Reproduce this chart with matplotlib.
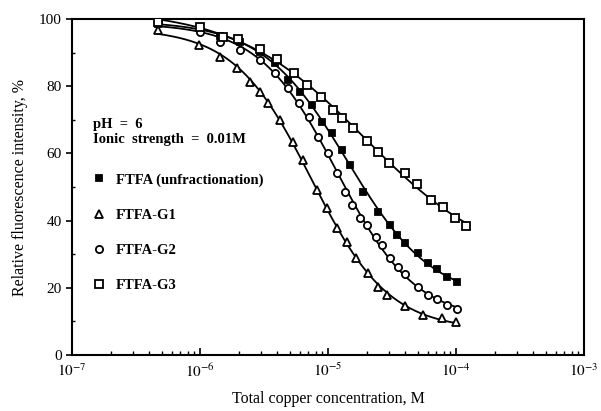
import numpy as np
import matplotlib
matplotlib.use("Agg")
from matplotlib import pyplot as plt
from matplotlib.lines import Line2D
from matplotlib.ticker import LogLocator, NullFormatter, MultipleLocator

plt.rcParams['font.family'] = ['Liberation Serif', 'DejaVu Serif']
plt.rcParams['mathtext.fontset'] = 'stix'

# readings (copper conc. in M, fluorescence in %)
ftfa_x = [4.7e-7, 1.0e-6, 1.43e-6, 2.05e-6, 2.94e-6, 3.86e-6, 4.87e-6, 6.04e-6, 7.5e-6, 8.98e-6,
          1.07e-5, 1.29e-5, 1.48e-5, 1.87e-5, 2.46e-5, 3.04e-5, 3.45e-5, 3.98e-5, 5.0e-5,
          6.0e-5, 7.1e-5, 8.5e-5, 1.02e-4]
ftfa_y = [98.5, 97.0, 95.0, 93.2, 90.2, 86.9, 81.8, 78.3, 74.4, 69.3,
          66.1, 61.0, 56.5, 48.5, 42.6, 38.7, 35.7, 33.3, 30.4,
          27.4, 25.6, 23.2, 21.7]

g1_x = [4.7e-7, 9.8e-7, 1.43e-6, 1.95e-6, 2.46e-6, 2.94e-6, 3.4e-6, 4.2e-6, 5.3e-6, 6.4e-6,
        8.2e-6, 9.8e-6, 1.17e-5, 1.4e-5, 1.65e-5, 2.05e-5, 2.45e-5, 2.9e-5, 4.0e-5,
        5.5e-5, 7.7e-5, 1.0e-4]
g1_y = [96.7, 92.3, 88.7, 85.4, 81.3, 78.3, 75.0, 69.9, 63.4, 58.0,
        49.1, 43.8, 37.8, 33.6, 28.9, 24.4, 20.2, 17.9, 14.6,
        11.9, 11.0, 9.8]

g2_x = [4.7e-7, 1.0e-6, 1.43e-6, 2.05e-6, 2.94e-6, 3.86e-6, 4.87e-6, 5.9e-6, 7.1e-6, 8.4e-6,
        1.0e-5, 1.17e-5, 1.36e-5, 1.54e-5, 1.78e-5, 2.0e-5, 2.35e-5, 2.63e-5, 3.04e-5,
        3.5e-5, 4.0e-5, 5.0e-5, 6.0e-5, 7.1e-5, 8.5e-5, 1.02e-4]
g2_y = [99.1, 96.1, 93.2, 90.8, 87.8, 83.9, 79.5, 75.0, 70.8, 64.9,
        60.1, 54.2, 48.5, 44.6, 40.8, 38.7, 35.1, 32.7, 28.9,
        26.2, 24.1, 20.2, 17.9, 16.7, 14.9, 13.7]

g3_x = [4.7e-7, 1.0e-6, 1.51e-6, 1.98e-6, 2.94e-6, 3.99e-6, 5.4e-6, 6.8e-6, 8.8e-6, 1.09e-5,
        1.29e-5, 1.57e-5, 2.02e-5, 2.46e-5, 3.0e-5, 4.0e-5, 4.96e-5, 6.4e-5, 7.9e-5,
        9.8e-5, 1.2e-4]
g3_y = [99.1, 97.6, 94.6, 94.0, 91.1, 88.1, 83.9, 80.4, 76.8, 73.0,
        70.5, 67.6, 63.7, 60.4, 57.1, 54.2, 50.9, 46.1, 44.0,
        40.8, 38.4]

series = [
	("FTFA (unfractionation)", ftfa_x, ftfa_y, "s", "black", 3.8),
	("FTFA-G1", g1_x, g1_y, "^", "white", 5.2),
	("FTFA-G2", g2_x, g2_y, "o", "white", 5.2),
	("FTFA-G3", g3_x, g3_y, "s", "white", 5.8),
]


def fit_sigmoid(lx, ys):
	# y = a*s + b*(1-s), s = 1/(1+10**(n*(lx-c))); grid over c, n, least squares for a, b
	ys = np.asarray(ys)
	best = None
	for c in np.linspace(-6.5, -3.5, 301):
		for n in np.linspace(0.3, 3.0, 136):
			s = 1.0 / (1.0 + 10 ** (n * (lx - c)))
			A = np.column_stack([s, 1 - s])
			coef, res, _, _ = np.linalg.lstsq(A, ys, rcond=None)
			err = np.sum((A @ coef - ys) ** 2)
			if best is None or err < best[0]:
				best = (err, c, n, coef)
	return best[1:]


fig = plt.figure(figsize=(6.01, 4.11), dpi=100)
ax = fig.add_axes([0.12, 0.136, 0.852, 0.818])

legend_items = []
for label, xs, ys, mk, face, ms in series:
	lx = np.log10(xs)
	c, n, (a, b) = fit_sigmoid(lx, ys)
	grid = np.linspace(lx.min(), lx.max(), 200)
	s = 1.0 / (1.0 + 10 ** (n * (grid - c)))
	ax.plot(10 ** grid, a * s + b * (1 - s), color="black", lw=1.3, zorder=2)
	ax.plot(xs, ys, ls="none", marker=mk, ms=ms, mfc=face, mec="black", mew=1.3, zorder=3)
	legend_items.append(Line2D([0], [0], ls="none", marker=mk, ms=ms, mfc=face, mec="black",
	                           mew=1.3, label=label))

ax.set_xscale("log")
ax.set_xlim(1e-7, 1e-3)
ax.set_ylim(0, 100)
ax.set_xticks([1e-7, 1e-6, 1e-5, 1e-4, 1e-3])
ax.set_xticklabels([r"$10^{-7}$", r"$10^{-6}$", r"$10^{-5}$", r"$10^{-4}$", r"$10^{-3}$"])
ax.xaxis.set_minor_locator(LogLocator(base=10, subs=np.arange(2, 10)))
ax.xaxis.set_minor_formatter(NullFormatter())
ax.yaxis.set_major_locator(MultipleLocator(20))
ax.yaxis.set_minor_locator(MultipleLocator(10))

ax.tick_params(axis="x", which="major", direction="in", length=5, width=1.2, labelsize=11, pad=5)
ax.tick_params(axis="x", which="minor", direction="in", length=3, width=1.0)
ax.tick_params(axis="y", which="major", direction="out", length=4, width=1.2, labelsize=11)
ax.tick_params(axis="y", which="minor", direction="in", length=2, width=1.0)
for sp in ax.spines.values():
	sp.set_linewidth(1.5)

ax.set_xlabel("Total copper concentration, M", fontsize=11.5, labelpad=8)
ax.set_ylabel("Relative fluorescence intensity, %", fontsize=11.5, labelpad=8)

ax.text(0.04, 0.705, "pH  =  6\nIonic  strength  =  0.01M", transform=ax.transAxes,
        fontsize=10.5, fontweight="bold", va="top", linespacing=1.15)

leg = ax.legend(handles=legend_items, loc="upper left", bbox_to_anchor=(0.012, 0.58),
                frameon=False, handlelength=1.0, handletextpad=0.7, labelspacing=1.5,
                prop={"weight": "bold", "size": 10.5})

plt.savefig("out.png", dpi=100)
plt.close()
